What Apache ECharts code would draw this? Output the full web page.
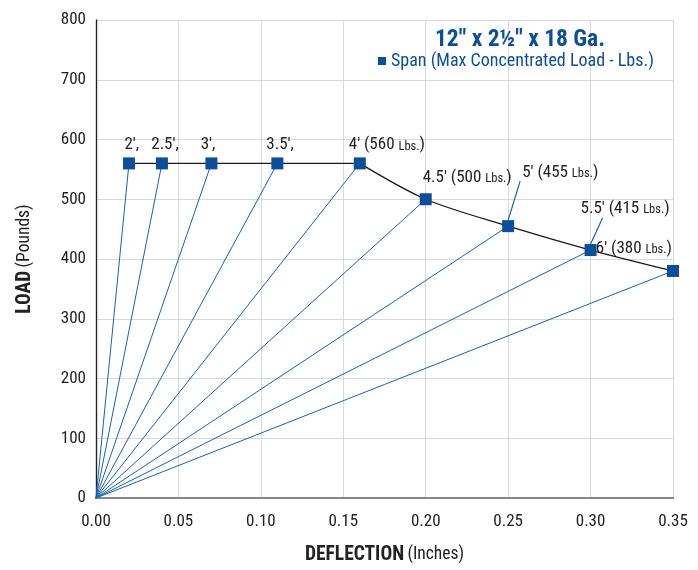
<!DOCTYPE html>
<html>
<head>
<meta charset="utf-8">
<script src="https://cdn.jsdelivr.net/npm/echarts@6/dist/echarts.min.js"></script>
<style>html,body{margin:0;padding:0;background:#fff}#c{width:698px;height:570px}</style>
</head>
<body>
<div id="c"></div>
<script>
const spans = ["2'", "2.5'", "3'", "3.5'", "4'", "4.5'", "5'", "5.5'", "6'"];
const deflection = [0.02, 0.04, 0.07, 0.11, 0.16, 0.20, 0.25, 0.30, 0.35];
const load = [560, 560, 560, 560, 560, 500, 455, 415, 380];
const showLoad = [false, false, false, false, true, true, true, true, true];
const xTicks = [0, 0.05, 0.10, 0.15, 0.20, 0.25, 0.30, 0.35];
const yTicks = [0, 100, 200, 300, 400, 500, 600, 700, 800];
const titleText = '12" x 2\u00BD" x 18 Ga.';
const legendText = 'Span (Max Concentrated Load - Lbs.)';

const FONT = '"Roboto Condensed", "Liberation Sans Narrow", "DejaVu Sans Condensed", sans-serif';
const BLUE = '#0b4f9c';
const LINEBLUE = '#1763ad';
const TXT = '#222';

// label placement per span (styling only)
const labelCfg = [
  {dx: -4.5, dy: 1}, {dx: -10.7, dy: 1}, {dx: -10.7, dy: 1}, {dx: -11, dy: 1}, {dx: -11, dy: 1},
  {dx: -3, dy: -2}, {dx: 14, dy: -34, lead: [12, -45]}, {dx: -10, dy: -22, lead: [12, -32]}, {dx: -1, dy: -3, right: true}
];

const series = [];
for (let i = 0; i < spans.length; i++) {
  series.push({
    type: 'line', silent: true, symbol: 'none', animation: false,
    lineStyle: {color: LINEBLUE, width: 1},
    data: [[0, 0], [deflection[i], load[i]]],
    z: 2
  });
}
const pts = deflection.map((d, i) => [d, load[i]]);
const flatEnd = load.lastIndexOf(load[0]);
series.push({
  type: 'line', symbol: 'none', animation: false, silent: true,
  lineStyle: {color: '#1a1a1a', width: 1.3},
  data: pts.slice(0, flatEnd + 1), z: 3
});
series.push({
  type: 'line', symbol: 'none', animation: false, silent: true, smooth: 0.3,
  lineStyle: {color: '#1a1a1a', width: 1.3},
  data: pts.slice(flatEnd), z: 3
});
series.push({
  name: legendText,
  type: 'scatter', symbol: 'rect', symbolSize: 12, animation: false,
  itemStyle: {color: BLUE, opacity: 1},
  z: 5,
  data: pts.map((p, i) => {
    const c = labelCfg[i];
    const txt = showLoad[i]
      ? '{a|' + spans[i] + ' (' + load[i] + ' }{b|Lbs.}{a|)}'
      : '{a|' + spans[i] + ',}';
    return {
      value: p,
      label: {
        show: true, position: 'top', distance: 5,
        align: c.right ? 'right' : 'left',
        offset: [c.dx, c.dy],
        formatter: txt,
        rich: {
          a: {fontFamily: FONT, fontSize: 17, color: TXT},
          b: {fontFamily: FONT, fontSize: 12.5, color: TXT, padding: [3, 0, 0, 0]}
        }
      }
    };
  })
});

const chart = echarts.init(document.getElementById('c'), null, {renderer: 'canvas'});
chart.setOption({
  animation: false,
  backgroundColor: '#fff',
  title: {
    text: titleText, left: 515, top: 23, textAlign: 'center',
    textStyle: {fontFamily: FONT, fontSize: 23.5, fontWeight: 'bold', color: BLUE}
  },
  legend: {
    data: [legendText], left: 378, top: 52, icon: 'rect', itemWidth: 8, itemHeight: 8,
    selectedMode: false, padding: 0,
    textStyle: {fontFamily: FONT, fontSize: 18, color: BLUE}
  },
  grid: {left: 96, right: 25, top: 20, bottom: 69, containLabel: false},
  xAxis: [{
    type: 'value', min: 0, max: 0.35, interval: 0.05,
    name: '{n|DEFLECTION} {m|(Inches)}', nameLocation: 'middle', nameGap: 47,
    nameTextStyle: {rich: {
      n: {fontFamily: FONT, fontSize: 19.5, fontWeight: 'bold', color: TXT},
      m: {fontFamily: FONT, fontSize: 17.5, color: TXT}
    }},
    axisLine: {show: true, onZero: false, lineStyle: {color: '#444', width: 2}},
    axisTick: {show: false},
    splitLine: {show: true, lineStyle: {color: '#d9d9d9', width: 1}},
    axisLabel: {fontFamily: FONT, fontSize: 17, color: TXT, margin: 15,
      formatter: v => v.toFixed(2)}
  }, {
    type: 'value', position: 'top', min: 0, max: 0.35,
    axisLine: {show: true, lineStyle: {color: '#888', width: 2}},
    axisTick: {show: false}, axisLabel: {show: false}, splitLine: {show: false}
  }],
  yAxis: [{
    type: 'value', min: 0, max: 800, interval: 100,
    name: '{n|LOAD} {m|(Pounds)}', nameLocation: 'middle', nameGap: 61, nameRotate: 90,
    nameTextStyle: {rich: {
      n: {fontFamily: FONT, fontSize: 19.5, fontWeight: 'bold', color: TXT},
      m: {fontFamily: FONT, fontSize: 17.5, color: TXT}
    }},
    axisLine: {show: true, onZero: false, lineStyle: {color: '#222', width: 1.2}},
    axisTick: {show: false},
    splitLine: {show: true, lineStyle: {color: '#d9d9d9', width: 1}},
    axisLabel: {fontFamily: FONT, fontSize: 17, color: TXT, margin: 10}
  }, {
    type: 'value', position: 'right', min: 0, max: 800,
    axisLine: {show: true, lineStyle: {color: '#222', width: 1.2}},
    axisTick: {show: false}, axisLabel: {show: false}, splitLine: {show: false}
  }],
  series: series
});

// leader lines from markers to their labels (anchored to data via the axes)
const leaders = [];
labelCfg.forEach((c, i) => {
  if (!c.lead) return;
  const p = chart.convertToPixel({gridIndex: 0}, [deflection[i], load[i]]);
  leaders.push({
    type: 'line', z: 4, silent: true,
    shape: {x1: p[0], y1: p[1] - 6, x2: p[0] + c.lead[0], y2: p[1] + c.lead[1]},
    style: {stroke: LINEBLUE, lineWidth: 1.2}
  });
});
chart.setOption({graphic: leaders});
</script>
</body>
</html>
